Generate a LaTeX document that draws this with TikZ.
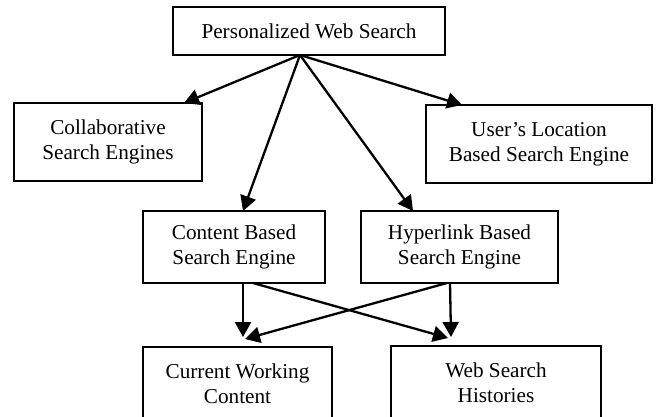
\documentclass[tikz,border=0pt]{standalone}
\usepackage{fontspec}
\setmainfont{Liberation Serif}
\usetikzlibrary{arrows.meta,calc}
\begin{document}
\begin{tikzpicture}[x=0.5pt,y=-0.5pt,
  box/.style={draw,line width=0.65pt,align=center,inner sep=0pt,
    font=\fontsize{10.6}{12.5}\selectfont},
  arr/.style={line width=1.15pt,-{Triangle[length=7.5pt,width=8pt]}}]
\useasboundingbox (0,0) rectangle (656,416);
\clip (0,0) rectangle (656,416);
\node[box,minimum width=136pt,minimum height=24pt] (top) at (309,31) {Personalized Web Search};
\node[box,minimum width=94pt,minimum height=39pt] (col) at (108,142) {Collaborative\\Search Engines};
\node[box,minimum width=113pt,minimum height=39pt] (usr) at (539,144) {User's Location\\Based Search Engine};
\node[box,minimum width=91pt,minimum height=36pt] (con) at (234,247) {Content Based\\Search Engine};
\node[box,minimum width=98.5pt,minimum height=36pt] (hyp) at (459.5,247) {Hyperlink Based\\Search Engine};
\node[box,minimum width=94.5pt,minimum height=37pt] (cur) at (237.5,384) {Current Working\\Content};
\node[box,minimum width=105pt,minimum height=37pt] (web) at (496,383) {Web Search\\Histories};
% connector end points
\coordinate (src) at (300,55);
\coordinate (tcol) at (184,103);
\coordinate (tusr) at (462,105);
\coordinate (tcon) at (243,211);
\coordinate (thyp) at (413,211);
\coordinate (conA) at (243,283);
\coordinate (conB) at (253,283);
\coordinate (hypA) at (450,283);
\coordinate (hypB) at (447,283);
\coordinate (curA) at (243,337);
\coordinate (curB) at (245,339);
\coordinate (webA) at (451,337);
\coordinate (webB) at (448,338);
\draw[arr] (src) -- (tcol);
\draw[arr] (src) -- (tusr);
\draw[arr] (src) -- (tcon);
\draw[arr] (src) -- (thyp);
\draw[arr] (conA) -- (curA);
\draw[arr] (conB) -- (webB);
\draw[arr] (hypA) -- (webA);
\draw[arr] (hypB) -- (curB);
\end{tikzpicture}
\end{document}
